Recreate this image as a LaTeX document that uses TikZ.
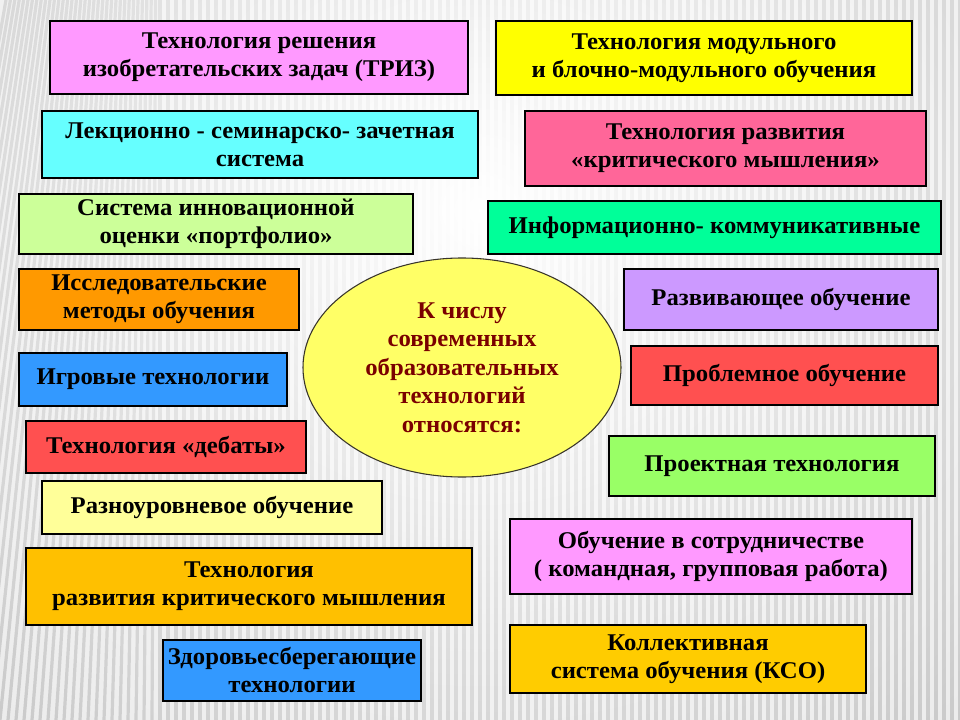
\documentclass[tikz,border=0pt]{standalone}
\usepackage{fontspec}
\setmainfont{Liberation Serif}[FakeStretch=1.03]
\usetikzlibrary{shapes.geometric,fadings}
\definecolor{cA}{HTML}{FF99FF}
\definecolor{cB}{HTML}{FFFF00}
\definecolor{cC}{HTML}{66FFFF}
\definecolor{cD}{HTML}{FF6699}
\definecolor{cE}{HTML}{CCFF99}
\definecolor{cF}{HTML}{00FF99}
\definecolor{cG}{HTML}{FF9900}
\definecolor{cH}{HTML}{CC99FF}
\definecolor{cI}{HTML}{3399FF}
\definecolor{cJ}{HTML}{FF5050}
\definecolor{cK}{HTML}{99FF66}
\definecolor{cL}{HTML}{FFFF99}
\definecolor{cM}{HTML}{FFC000}
\definecolor{cN}{HTML}{FFCC00}
\definecolor{cEl}{HTML}{FFFF66}
\definecolor{cElText}{HTML}{7A0000}
\definecolor{bgbase}{HTML}{EBEBEB}
\definecolor{stripe}{HTML}{C6C6C6}
\tikzfading[name=midfade, inner color=transparent!0, outer color=transparent!100]
\tikzset{
  bx/.style 2 args={draw=black, line width=0.8pt, inner sep=0pt, align=center,
    minimum width=#1*0.75pt, minimum height=#2*0.75pt, text=black,
    font=\bfseries\fontsize{18}{21}\selectfont},
  centre/.style={ellipse, draw=black!80!olive, line width=0.8pt, fill=cEl, inner sep=0pt,
    minimum width=318*0.75pt, minimum height=219*0.75pt, align=center, text=cElText,
    font=\bfseries\fontsize{18}{21.4}\selectfont}
}
\begin{document}
\begin{tikzpicture}[x=0.75pt,y=-0.75pt]
\useasboundingbox (0,0) rectangle (960,720);
% background
\fill[bgbase] (0,0) rectangle (960,720);
\foreach \i in {-120,-112,...,960} {
  \pgfmathsetmacro{\tilt}{\i<160 ? (160-\i)*0.45 : 0}
  \draw[stripe, line width=2.4pt] (\i+\tilt,0) -- (\i,720);
}
\fill[white, path fading=midfade] (-300,-520) rectangle (1260,940);
% boxes
\node[bx={418}{73}, fill=cA] (b1) at (259,57.5) {Технология решения\\изобретательских задач (ТРИЗ)};
\node[bx={416}{74}, fill=cB] (b2) at (704,58) {Технология модульного\\и блочно-модульного обучения};
\node[bx={436}{67}, fill=cC] (b3) at (260,144.5) {Лекционно - семинарско- зачетная\\система};
\node[bx={401}{75}, fill=cD] (b4) at (725.5,148.5) {Технология развития\\«критического мышления»};
\node[bx={394}{60}, fill=cE] (b5) at (216,224) {Система инновационной\\оценки «портфолио»};
\node[bx={453}{53}, fill=cF] (b6) at (714.5,227.5) {Информационно- коммуникативные};
\node[bx={280}{61}, fill=cG] (b7) at (159,299.5) {Исследовательские\\методы обучения};
\node[bx={314}{61}, fill=cH] (b8) at (781,299.5) {Развивающее обучение};
\node[bx={268}{53}, fill=cI] (b9) at (153,379.5) {Игровые технологии};
\node[bx={307}{59}, fill=cJ] (b10) at (784.5,375.5) {Проблемное обучение};
\node[bx={280}{52}, fill=cJ] (b11) at (166,447) {Технология «дебаты»};
\node[bx={326}{60}, fill=cK] (b12) at (772,466) {Проектная технология};
\node[bx={340}{53}, fill=cL] (b13) at (212,507.5) {Разноуровневое обучение};
\node[bx={402}{75}, fill=cA] (b14) at (711,556.5) {Обучение в сотрудничестве\\( командная, групповая работа)};
\node[bx={446}{77}, fill=cM] (b15) at (249,586.5) {Технология\\развития критического мышления};
\node[bx={258}{61}, fill=cI] (b16) at (292,670.5) {Здоровьесберегающие\\технологии};
\node[bx={356}{68}, fill=cN] (b17) at (688,659) {Коллективная\\система обучения (КСО)};
% centre ellipse
\node[centre] (c) at (462,367.5) {К числу\\современных\\образовательных\\технологий\\относятся:};
\end{tikzpicture}
\end{document}
